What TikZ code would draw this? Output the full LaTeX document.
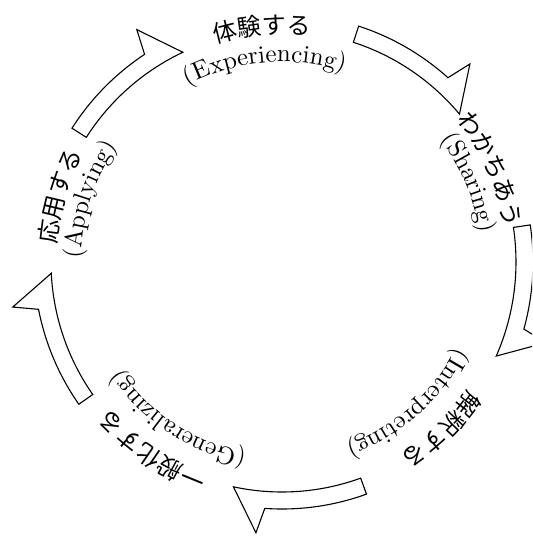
\documentclass[tikz,border=0pt]{standalone}
\usepackage{fontspec}
\newfontfamily\jpfont{Noto Sans CJK JP}
\newfontfamily\enfont{lmroman10-regular.otf}
\usetikzlibrary{decorations.text}
\tikzset{
  cyclearrow/.style={draw=black, fill=white, line width=1.1pt, line join=miter},
  enlabel/.style={decorate, decoration={text along path, text align=center,
      text={|\enfont\fontsize{25}{30}\selectfont|#1}}},
  jplabel/.style={decorate, decoration={text along path, text align=center,
      text={|\jpfont\fontsize{24}{28}\selectfont|#1}}},
}
% #1 = tail angle, #2 = inner radius (pt)
\newcommand\cyclearr[2]{%
  \draw[cyclearrow] (#1:#2pt) arc[start angle=#1, end angle=#1-32.2, radius=#2pt]
    -- (#1-25.5:#2pt+42pt) -- (#1-24:#2pt+17pt)
    arc[start angle=#1-24, end angle=#1, radius=#2pt+17pt] -- cycle;}
% #1 style, #2 text, #3 centre angle, #4 baseline radius
\newcommand\arctext[4]{%
  \path[#1={#2}] (#3+70:#4) arc[start angle=#3+70, end angle=#3-70, radius=#4];}
\begin{document}
\begin{tikzpicture}
\useasboundingbox (-282pt,-275pt) rectangle (250pt,262pt);
\clip (-282pt,-275pt) rectangle (250pt,262pt);
\coordinate (O) at (0,0);
% arrows
\cyclearr{147.5}{232}
\cyclearr{72}{231}
\cyclearr{8.5}{234}
\cyclearr{-70}{230}
\cyclearr{215}{231}
% labels
\arctext{jplabel}{体験する}{95}{228pt}
\arctext{enlabel}{(Experiencing)}{95}{200pt}
\arctext{jplabel}{わかちあう}{24}{225pt}
\arctext{enlabel}{(Sharing)}{23}{200pt}
\arctext{jplabel}{解釈する}{-46.5}{226pt}
\arctext{enlabel}{(Interpreting)}{-48.5}{194pt}
\arctext{jplabel}{一般化する}{-124.5}{226pt}
\arctext{enlabel}{(Generalizing)}{-123.5}{194pt}
\arctext{jplabel}{応用する}{163.5}{226pt}
\arctext{enlabel}{(Applying)}{162}{201pt}
\end{tikzpicture}
\end{document}
